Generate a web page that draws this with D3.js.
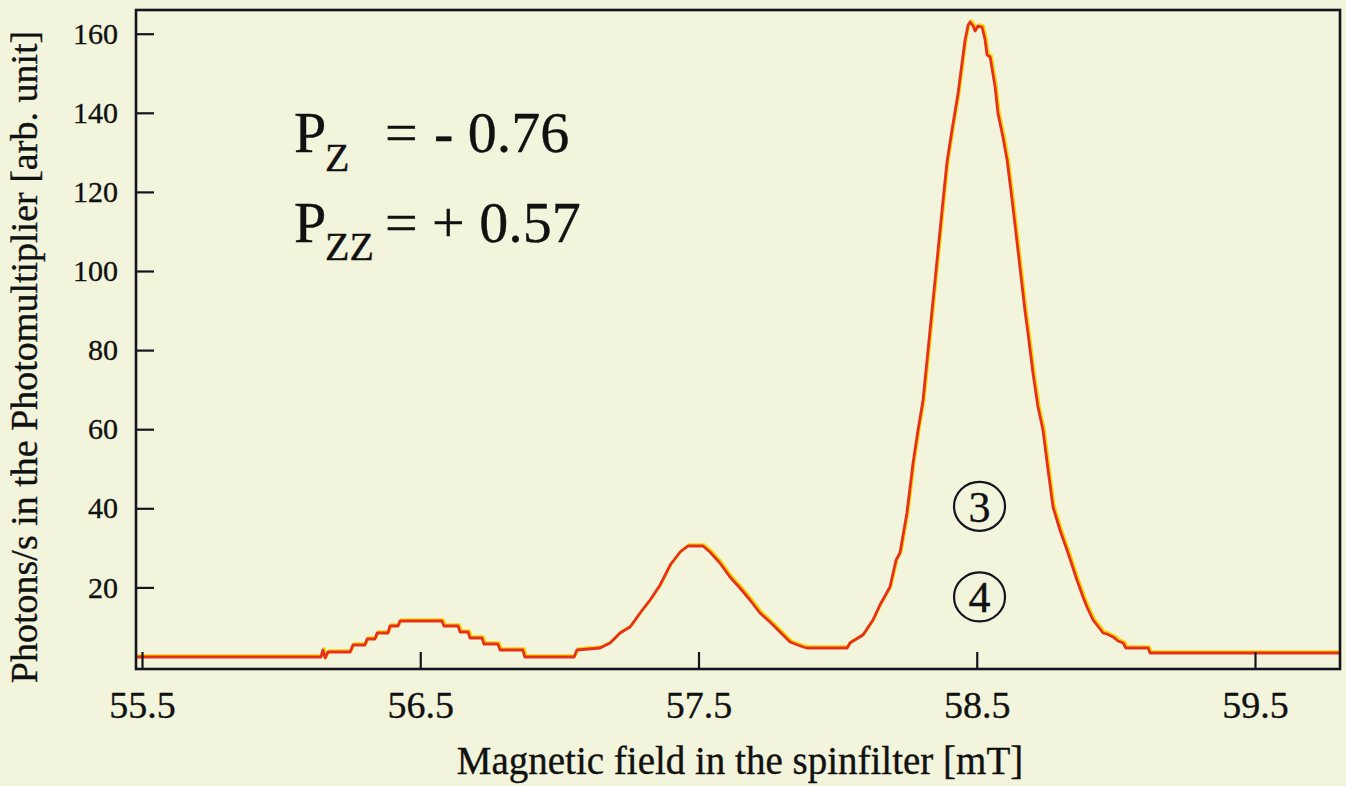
<!DOCTYPE html>
<html>
<head>
<meta charset="utf-8">
<script src="https://cdn.jsdelivr.net/npm/d3@7"></script>
<style>
  html, body { margin: 0; padding: 0; background: #f2f4dc; }
  svg { display: block; }
  text { font-family: "Liberation Serif", "Times New Roman", serif; fill: #111; stroke: #111; stroke-width: 0.35px; }
</style>
</head>
<body>
<svg id="chart" width="1346" height="786"></svg>
<script>
// Magnetic field scan through the spin filter (mT)
const fieldMT = [
  55.478, 56.143, 56.150, 56.158, 56.168, 56.248, 56.258, 56.301, 56.309, 56.337,
  56.345, 56.384, 56.391, 56.420, 56.427, 56.578, 56.585, 56.636, 56.643, 56.672,
  56.679, 56.722, 56.729, 56.779, 56.787, 56.869, 56.876, 57.053, 57.063, 57.146,
  57.182, 57.218, 57.254, 57.290, 57.326, 57.362, 57.398, 57.434, 57.462, 57.516,
  57.541, 57.577, 57.613, 57.649, 57.685, 57.721, 57.757, 57.793, 57.829, 57.876,
  57.890, 58.034, 58.044, 58.091, 58.127, 58.152, 58.188, 58.210, 58.224, 58.249,
  58.271, 58.289, 58.307, 58.325, 58.343, 58.361, 58.379, 58.393, 58.411, 58.433,
  58.447, 58.458, 58.469, 58.476, 58.487, 58.494, 58.504, 58.519, 58.530, 58.537,
  58.548, 58.566, 58.576, 58.594, 58.609, 58.627, 58.648, 58.673, 58.684, 58.702,
  58.720, 58.738, 58.753, 58.774, 58.799, 58.828, 58.860, 58.882, 58.896, 58.918,
  58.932, 58.954, 58.968, 58.990, 59.008, 59.026, 59.036, 59.116, 59.123, 59.805
];

// Photomultiplier count rate (photons/s, arb. unit)
const photonRate = [
  2.40, 2.40, 4.17, 2.15, 3.67, 3.67, 5.44, 5.44, 6.95, 6.95,
  8.47, 8.47, 10.24, 10.24, 11.50, 11.50, 10.24, 10.24, 8.72, 8.72,
  7.21, 7.21, 5.69, 5.69, 4.17, 4.17, 2.40, 2.40, 4.17, 4.68,
  5.94, 8.47, 9.99, 13.53, 16.81, 20.61, 25.66, 28.95, 30.47, 30.47,
  28.95, 26.17, 22.63, 19.85, 16.81, 13.53, 11.25, 8.72, 6.19, 4.93,
  4.68, 4.68, 5.94, 7.96, 11.76, 15.55, 20.10, 26.93, 28.70, 38.81,
  51.45, 59.80, 67.38, 80.03, 92.67, 105.31, 117.95, 127.50, 135.65, 145.01,
  152.59, 158.41, 162.20, 162.96, 161.95, 160.68, 161.95, 161.69, 158.41, 154.61,
  154.11, 146.52, 139.95, 133.88, 128.07, 117.95, 105.31, 90.14, 84.32, 74.21,
  65.61, 59.80, 51.45, 40.33, 34.51, 28.70, 21.87, 17.57, 15.04, 11.76,
  10.49, 8.47, 8.22, 7.46, 6.45, 5.94, 4.68, 4.68, 3.41, 3.41
];

const xTickValues = [55.5, 56.5, 57.5, 58.5, 59.5];
const yTickValues = [20, 40, 60, 80, 100, 120, 140, 160];

// Transition markers drawn above the main peak
const markerLabels = ["3", "4"];
const markerField = [58.51, 58.51];
const markerRate = [40.5, 17.6];

const xTitle = "Magnetic field in the spinfilter [mT]";
const yTitle = "Photons/s in the Photomultiplier [arb. unit]";

const svg = d3.select("#chart");
const frame = { left: 136, right: 1340, top: 10, bottom: 669 };
const ink = "#14141e";

const x = d3.scaleLinear().domain([55.5, 59.5]).range([142, 1255]);
const y = d3.scaleLinear().domain([0, 160]).range([666.5, 33.7]);

const points = fieldMT.map((f, i) => [f, photonRate[i]]);

svg.append("defs").append("clipPath").attr("id", "plotClip")
  .append("rect")
  .attr("x", frame.left).attr("y", frame.top)
  .attr("width", frame.right - frame.left).attr("height", frame.bottom - frame.top);

// Trace: yellow fringe slightly offset, red trace on top
const line = d3.line().x(d => x(d[0])).y(d => y(d[1]));
const trace = svg.append("g").attr("clip-path", "url(#plotClip)");
trace.append("path")
  .datum(points)
  .attr("d", line)
  .attr("transform", "translate(1.3,-1.3)")
  .attr("fill", "none")
  .attr("stroke", "#f4d600")
  .attr("stroke-width", 2.8)
  .attr("stroke-linejoin", "round");
trace.append("path")
  .datum(points)
  .attr("d", line)
  .attr("fill", "none")
  .attr("stroke", "#e6301c")
  .attr("stroke-width", 2.8)
  .attr("stroke-linejoin", "round");

// Axes with inward ticks
const yAxis = d3.axisLeft(y).tickValues(yTickValues).tickSize(-18).tickPadding(18)
  .tickFormat(d3.format("d"));
const gy = svg.append("g").attr("transform", `translate(${frame.left},0)`).call(yAxis);
gy.select(".domain").remove();
gy.selectAll(".tick line").attr("stroke", ink).attr("stroke-width", 2.2);
gy.selectAll(".tick text")
  .attr("font-family", "Liberation Serif, serif")
  .attr("font-size", 30).attr("fill", ink);

const xAxis = d3.axisBottom(x).tickValues(xTickValues).tickSize(-17).tickPadding(22)
  .tickFormat(d3.format(".1f"));
const gx = svg.append("g").attr("transform", `translate(0,${frame.bottom})`).call(xAxis);
gx.select(".domain").remove();
gx.selectAll(".tick line").attr("stroke", ink).attr("stroke-width", 2.2);
gx.selectAll(".tick text")
  .attr("font-family", "Liberation Serif, serif")
  .attr("font-size", 38).attr("fill", ink);

// Frame box
svg.append("rect")
  .attr("x", frame.left).attr("y", frame.top)
  .attr("width", frame.right - frame.left).attr("height", frame.bottom - frame.top)
  .attr("fill", "none").attr("stroke", ink).attr("stroke-width", 2.6);

// Axis titles
svg.append("text")
  .attr("x", (frame.left + frame.right) / 2 + 2).attr("y", 774)
  .attr("text-anchor", "middle").attr("font-size", 39)
  .text(xTitle);
svg.append("text")
  .attr("transform", "translate(37,357) rotate(-90)")
  .attr("text-anchor", "middle").attr("font-size", 38)
  .text(yTitle);

// Polarisation values
const pol = svg.append("g").attr("font-size", 58);
pol.append("text").attr("x", 294).attr("y", 152).text("P");
pol.append("text").attr("x", 325).attr("y", 171).attr("font-size", 40).text("Z");
pol.append("text").attr("x", 385).attr("y", 152).text("=");
pol.append("text").attr("x", 434).attr("y", 152).text("- 0.76");
pol.append("text").attr("x", 294).attr("y", 242).text("P");
pol.append("text").attr("x", 325).attr("y", 260).attr("font-size", 40).text("ZZ");
pol.append("text").attr("x", 385).attr("y", 242).text("=");
pol.append("text").attr("x", 432).attr("y", 242).text("+ 0.57");

// Circled transition numbers
const markers = svg.append("g");
markerLabels.forEach((lab, i) => {
  const cx = x(markerField[i]), cy = y(markerRate[i]);
  markers.append("ellipse")
    .attr("cx", cx).attr("cy", cy).attr("rx", 25.5).attr("ry", 24.5)
    .attr("fill", "none").attr("stroke", ink).attr("stroke-width", 2.2);
  markers.append("text")
    .attr("x", cx).attr("y", cy).attr("dy", "0.35em")
    .attr("text-anchor", "middle").attr("font-size", 44)
    .text(lab);
});
</script>
</body>
</html>
